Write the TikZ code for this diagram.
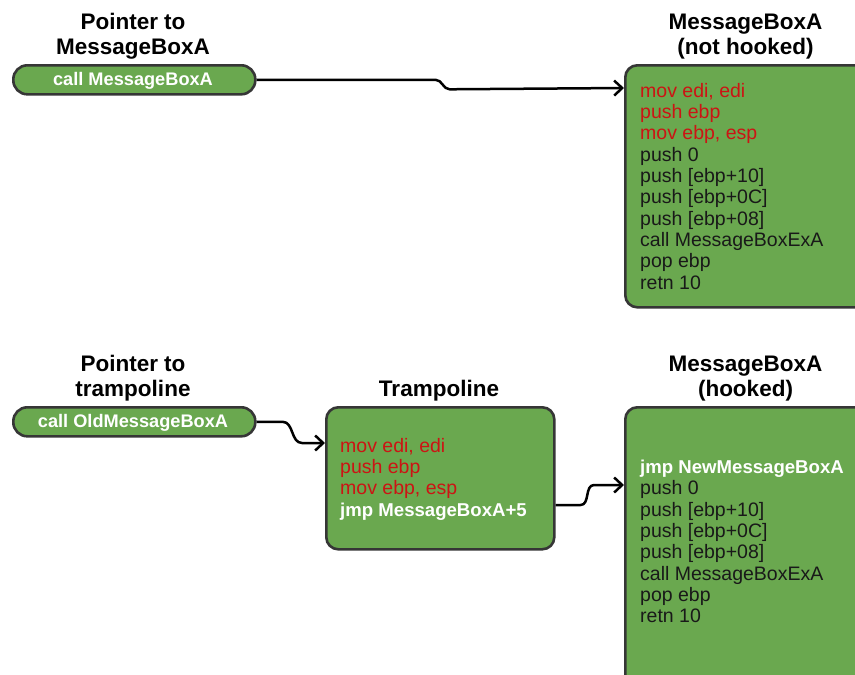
\documentclass[tikz,border=0pt]{standalone}
\usepackage{fontspec}
\setmainfont{Liberation Sans}
\usetikzlibrary{arrows.meta}

\definecolor{boxgreen}{HTML}{6AA84F}
\definecolor{edgegray}{HTML}{363636}
\definecolor{oprel}{HTML}{CC1414}

\tikzset{
  panel/.style={draw=edgegray, line width=2.6pt, fill=boxgreen,
    rounded corners=12pt, inner sep=0pt, anchor=north west},
  pill/.style={panel, rounded corners=14pt},
  heading/.style={font=\bfseries\fontsize{22.5}{25}\selectfont,
    align=center, anchor=south, inner sep=0pt},
  code/.style={font=\fontsize{19.5}{21.35}\selectfont, anchor=base west, inner sep=0pt},
  oldop/.style={code, text=oprel},
  keptop/.style={code, text=black!90},
  hookop/.style={code, font=\bfseries\fontsize{18.6}{21.35}\selectfont, text=white},
  pilltext/.style={font=\bfseries\fontsize{18.2}{21}\selectfont, text=white,
    anchor=base, inner sep=0pt},
  conn/.style={draw=black, line width=2.5pt, line join=round,
    -{Straight Barb[length=8pt,width=15pt,line width=2.5pt]}},
}

\begin{document}
\begin{tikzpicture}[x=1pt, y=-1pt]
  \clip (0,0) rectangle (855,675);
  \fill[white] (0,0) rectangle (855,675);

  % ---------- original function ----------
  \node[heading] (t1) at (133,59.7) {Pointer to\\MessageBoxA};
  \node[pill, minimum width=242pt, minimum height=29pt] (p1) at (12,64) {};
  \node[pilltext] (p1t) at (133,85.5) {call MessageBoxA};

  \node[heading] (t2) at (745.5,59.7) {MessageBoxA\\(not hooked)};
  \node[panel, minimum width=246pt, minimum height=242pt] (b1) at (624,64) {};

  \node[oldop]  (a1)  at (640,97) {mov edi, edi};
  \node[oldop]  (a2)  at ([yshift=-21.35pt]a1.base west) {push ebp};
  \node[oldop]  (a3)  at ([yshift=-21.35pt]a2.base west) {mov ebp, esp};
  \node[keptop] (a4)  at ([yshift=-21.35pt]a3.base west) {push 0};
  \node[keptop] (a5)  at ([yshift=-21.35pt]a4.base west) {push [ebp+10]};
  \node[keptop] (a6)  at ([yshift=-21.35pt]a5.base west) {push [ebp+0C]};
  \node[keptop] (a7)  at ([yshift=-21.35pt]a6.base west) {push [ebp+08]};
  \node[keptop] (a8)  at ([yshift=-21.35pt]a7.base west) {call MessageBoxExA};
  \node[keptop] (a9)  at ([yshift=-21.35pt]a8.base west) {pop ebp};
  \node[keptop] (a10) at ([yshift=-21.35pt]a9.base west) {retn 10};

  \coordinate (b1in) at ([yshift=-24pt]b1.north west);
  \draw[conn] (p1.east) -- ++(179,0) to[out=0,in=180] ++(14,9.5) -- (b1in);

  % ---------- hooked function ----------
  \node[heading] (t3) at (133,401.7) {Pointer to\\trampoline};
  \node[pill, minimum width=242pt, minimum height=29pt] (p2) at (12,406) {};
  \node[pilltext] (p2t) at (133,427) {call OldMessageBoxA};

  \node[heading] (t4) at (439,401.7) {Trampoline};
  \node[panel, minimum width=228pt, minimum height=142pt] (tr) at (325,406) {};

  \node[oldop]  (c1) at (340,452) {mov edi, edi};
  \node[oldop]  (c2) at ([yshift=-21.35pt]c1.base west) {push ebp};
  \node[oldop]  (c3) at ([yshift=-21.35pt]c2.base west) {mov ebp, esp};
  \node[hookop] (c4) at ([yshift=-21.35pt]c3.base west) {jmp MessageBoxA+5};

  \node[heading] (t5) at (745.5,401.7) {MessageBoxA\\(hooked)};
  \node[panel, minimum width=246pt, minimum height=290pt] (b3) at (624,406) {};

  \node[hookop] (d1) at (640,473.5) {jmp NewMessageBoxA};
  \node[keptop] (d2) at ([yshift=-21.35pt]d1.base west) {push 0};
  \node[keptop] (d3) at ([yshift=-21.35pt]d2.base west) {push [ebp+10]};
  \node[keptop] (d4) at ([yshift=-21.35pt]d3.base west) {push [ebp+0C]};
  \node[keptop] (d5) at ([yshift=-21.35pt]d4.base west) {push [ebp+08]};
  \node[keptop] (d6) at ([yshift=-21.35pt]d5.base west) {call MessageBoxExA};
  \node[keptop] (d7) at ([yshift=-21.35pt]d6.base west) {pop ebp};
  \node[keptop] (d8) at ([yshift=-21.35pt]d7.base west) {retn 10};

  \coordinate (trin) at ([yshift=-37pt]tr.north west);
  \coordinate (trout) at ([yshift=-99pt]tr.north east);
  \coordinate (b3in) at ([yshift=-79pt]b3.north west);
  \draw[conn] (p2.east) -- ++(26,0) to[out=0,in=180] (trin -| 302,0) -- (trin);
  \draw[conn] (trout) -- ++(25,0) to[out=0,in=180] (b3in -| 594,0) -- (b3in);
\end{tikzpicture}
\end{document}
